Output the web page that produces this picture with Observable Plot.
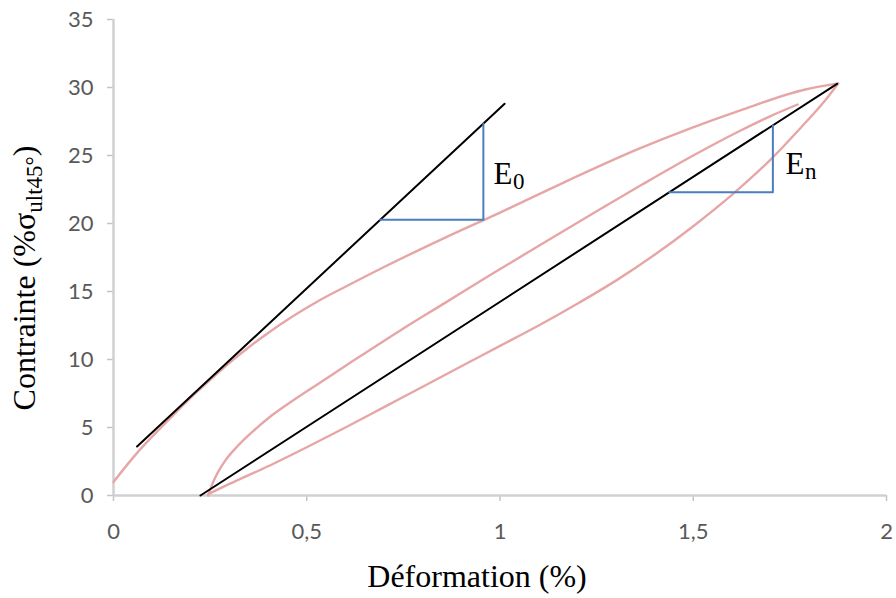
<!DOCTYPE html>
<html>
<head>
<meta charset="utf-8">
<script src="https://cdn.jsdelivr.net/npm/d3@7"></script>
<script src="https://cdn.jsdelivr.net/npm/@observablehq/plot@0.6"></script>
<style>
  html, body { margin: 0; padding: 0; background: #ffffff; }
  #chart svg { display: block; }
</style>
</head>
<body>
<div id="chart"></div>
<script>
// ---- Data ----
// Axis ticks
const xTicks = [0, 0.5, 1, 1.5, 2];
const xTickLabels = ["0", "0,5", "1", "1,5", "2"];
const yTicks = [0, 5, 10, 15, 20, 25, 30, 35];

// First loading curve (pink, upper)
const loadX = [0, 0.06, 0.13, 0.2, 0.25, 0.3, 0.35, 0.4, 0.46, 0.53, 0.6, 0.7, 0.85, 1.0, 1.13, 1.36, 1.62, 1.79, 1.875];
const loadY = [1.0, 3.1, 5.2, 7.2, 8.5, 9.75, 10.9, 11.95, 13.1, 14.3, 15.35, 16.8, 18.85, 20.8, 22.55, 25.5, 28.3, 29.85, 30.3];

// Reloading curve (pink, middle)
const reloadX = [0.245, 0.255, 0.27, 0.29, 0.32, 0.36, 0.41, 0.47, 0.54, 0.62, 0.74, 0.86, 0.98, 1.12, 1.25, 1.37, 1.5, 1.62, 1.7, 1.77];
const reloadY = [0.0, 0.8, 1.7, 2.6, 3.6, 4.7, 5.9, 7.1, 8.4, 9.9, 12.1, 14.2, 16.3, 18.7, 20.9, 22.9, 25.0, 26.8, 27.9, 28.75];

// Unloading curve (pink, lower)
const unloadX = [0.245, 0.3, 0.4, 0.5, 0.6, 0.7, 0.8, 0.9, 1.0, 1.1, 1.2, 1.3, 1.4, 1.5, 1.6, 1.7, 1.78, 1.84, 1.875];
const unloadY = [0.1, 0.85, 2.15, 3.55, 5.0, 6.5, 8.0, 9.5, 11.0, 12.5, 14.1, 15.8, 17.7, 19.8, 22.1, 24.7, 27.1, 29.0, 30.3];

// Tangent line E0 (black) and secant line En (black)
const e0LineX = [0.061, 1.012];
const e0LineY = [3.6, 28.8];
const enLineX = [0.225, 1.872];
const enLineY = [0, 30.27];

// Slope triangles (blue)
const e0TriX = [0.69, 0.957, 0.957];
const e0TriY = [20.27, 20.27, 27.34];
const enTriX = [1.438, 1.706, 1.706];
const enTriY = [22.3, 22.3, 27.22];

// Slope labels
const labelX = [0.983, 1.739];
const labelY = [22.94, 23.65];
const labelMain = ["E", "E"];
const labelSub = ["0", "n"];

// ---- Build tables ----
const toPts = (xs, ys) => xs.map((x, i) => ({x, y: ys[i]}));
const loadPts = toPts(loadX, loadY);
const reloadPts = toPts(reloadX, reloadY);
const unloadPts = toPts(unloadX, unloadY);
const e0Line = toPts(e0LineX, e0LineY);
const enLine = toPts(enLineX, enLineY);
const e0Tri = toPts(e0TriX, e0TriY);
const enTri = toPts(enTriX, enTriY);
const labels = labelX.map((x, i) => ({x, y: labelY[i], main: labelMain[i], sub: labelSub[i]}));

const pink = "#e7a6a6";
const serif = "'Liberation Serif', 'Times New Roman', serif";

const chart = Plot.plot({
  width: 896,
  height: 598,
  marginTop: 19,
  marginBottom: 103,
  marginLeft: 113,
  marginRight: 10,
  style: {fontFamily: "Lato, 'Open Sans', sans-serif", background: "#ffffff"},
  x: {domain: [0, 2]},
  y: {domain: [0, 35]},
  marks: [
    Plot.axisX({ticks: xTicks, tickFormat: (d, i) => xTickLabels[i], tickSize: 6, tickPadding: 22,
                fontSize: 22, color: "#595959", stroke: "#c4c4c4", strokeWidth: 1.5, label: null}),
    Plot.axisY({ticks: yTicks, tickSize: 6, tickPadding: 14,
                fontSize: 22, color: "#595959", stroke: "#c4c4c4", strokeWidth: 1.5, label: null}),
    Plot.ruleX([0], {stroke: "#d0d0d0", strokeWidth: 2.5}),
    Plot.ruleY([0], {stroke: "#d0d0d0", strokeWidth: 2.5}),
    Plot.line(loadPts, {x: "x", y: "y", stroke: pink, strokeWidth: 2.4, curve: "monotone-x"}),
    Plot.line(reloadPts, {x: "x", y: "y", stroke: pink, strokeWidth: 2.4, curve: "monotone-x"}),
    Plot.line(unloadPts, {x: "x", y: "y", stroke: pink, strokeWidth: 2.4, curve: "monotone-x"}),
    Plot.line(e0Line, {x: "x", y: "y", stroke: "#000000", strokeWidth: 2}),
    Plot.line(enLine, {x: "x", y: "y", stroke: "#000000", strokeWidth: 2}),
    Plot.line(e0Tri, {x: "x", y: "y", stroke: "#4a7ebf", strokeWidth: 2}),
    Plot.line(enTri, {x: "x", y: "y", stroke: "#4a7ebf", strokeWidth: 2}),
    Plot.text(labels, {x: "x", y: "y", text: "main", textAnchor: "start", lineAnchor: "bottom",
                       fontSize: 31, fontFamily: serif, fill: "#000000"}),
    Plot.text(labels, {x: "x", y: "y", text: "sub", textAnchor: "start", lineAnchor: "bottom",
                       dx: 19.5, dy: 5, fontSize: 23, fontFamily: serif, fill: "#000000"})
  ]
});

document.getElementById("chart").appendChild(chart);

// ---- Axis titles ----
const svg = d3.select(chart);
svg.append("text")
  .attr("x", 477).attr("y", 587)
  .attr("text-anchor", "middle")
  .attr("font-family", serif).attr("font-size", 32).attr("fill", "#000")
  .text("Déformation (%)");

const yt = svg.append("text")
  .attr("transform", "translate(35,278) rotate(-90)")
  .attr("text-anchor", "middle")
  .attr("font-family", serif).attr("font-size", 32).attr("fill", "#000");
yt.append("tspan").text("Contrainte (%σ");
yt.append("tspan").attr("font-size", 23).attr("dy", 7).text("ult45°");
yt.append("tspan").attr("dy", -7).text(")");
</script>
</body>
</html>
